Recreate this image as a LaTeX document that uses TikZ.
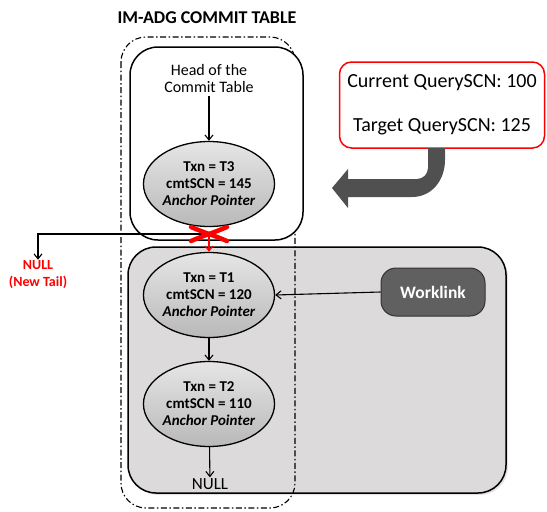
\documentclass[tikz,border=0pt]{standalone}
\usepackage{fontspec}
\setmainfont{Carlito}
\usetikzlibrary{shapes.geometric,arrows.meta,shadows}
\definecolor{boxgray}{HTML}{DCDADB}
\definecolor{linkfill}{HTML}{606060}
\definecolor{bendgray}{HTML}{505050}
\definecolor{alertred}{HTML}{FF0000}
\tikzset{
  ptr/.style={line width=1.1pt, -{Straight Barb[length=5pt,width=8pt,line width=1.1pt]}},
  entry/.style={ellipse, draw=black, line width=1.3pt, minimum width=116pt,
    minimum height=85pt, inner sep=0pt, align=center,
    top color=gray!20, bottom color=gray!55,
    font=\fontsize{15}{17}\selectfont\bfseries},
  region/.style={draw=black, line width=1.5pt, rounded corners=28pt},
}
\begin{document}
\begin{tikzpicture}[x=1pt,y=-1pt]
\useasboundingbox (0,0) rectangle (547,512);

% title
\node[font=\fontsize{18}{20}\selectfont\bfseries] (title) at (207,18) {IM-ADG COMMIT TABLE};

% lower region holding the older entries
\fill[gray!70, opacity=0.3, rounded corners=28pt] (130,249) rectangle (508,495);
\draw[region, fill=boxgray] (128,247) rectangle (506,493);

% outline of the commit table
\draw[line width=1.1pt, dash pattern=on 6pt off 2.5pt on 1.5pt off 2.5pt, rounded corners=25pt]
  (121,37) rectangle (295,508);

% upper region holding the head
\draw[region, fill=white] (130,47) rectangle (303,240);

% entries
\node[font=\fontsize{16}{17}\selectfont, align=center] (head) at (209,78) {Head of the\\Commit Table};
\node[entry] (t3) at (209,184) {Txn = T3\\cmtSCN = 145\\\textit{Anchor Pointer}};
\node[entry] (t1) at (209,295) {Txn = T1\\cmtSCN = 120\\\textit{Anchor Pointer}};
\node[entry] (t2) at (209,404) {Txn = T2\\cmtSCN = 110\\\textit{Anchor Pointer}};
\node[font=\fontsize{17}{18}\selectfont, inner sep=1pt] (null) at (210,484) {NULL};
\node[font=\fontsize{14}{17}\selectfont\bfseries, text=alertred, align=center, inner sep=1pt]
  (tail) at (38,275) {NULL\\(New Tail)};

% worklink
\node[fill=linkfill, draw=black!80, line width=1pt, rounded corners=15pt,
  minimum width=104pt, minimum height=48pt, text=white,
  font=\fontsize{17.5}{18}\selectfont\bfseries] (wl) at (433,292) {Worklink};

% query SCN box
\node[draw=alertred, line width=1.5pt, rounded corners=12pt, fill=white,
  minimum width=205pt, minimum height=86pt, align=center,
  font=\fontsize{20}{44}\selectfont] (scn) at (442,105) {Current QuerySCN: 100\\Target QuerySCN: 125};

% bent arrow leaving the query SCN box
\fill[bendgray] (428,148) -- (445,148) -- (445,160)
  .. controls (445,180) and (432,197) .. (412,197)
  -- (348,197) -- (348,208) -- (332,188) -- (348,169) -- (348,179)
  -- (417,179) .. controls (423,179) and (428,174) .. (428,168) -- cycle;

% cut point of the old link
\coordinate (cut) at (209,234);

% links
\draw[ptr] (head) -- (t3);
\draw[ptr] (cut) -| (tail.north);
\draw[ptr] (t1) -- (t2);
\draw[ptr] (t2) -- (null);
\draw[ptr] (wl.west) -- (t1.east);
\draw[ptr, draw=alertred] (cut) -- (t1.north);

% red cross over the broken link
\draw[alertred, line width=4.5pt, line cap=round]
  ([shift={(-18,-7)}]cut) .. controls ([shift={(-4,-1)}]cut) and ([shift={(4,1)}]cut) .. ([shift={(18,7)}]cut);
\draw[alertred, line width=4.5pt, line cap=round]
  ([shift={(-18,7)}]cut) .. controls ([shift={(-4,1)}]cut) and ([shift={(4,-1)}]cut) .. ([shift={(18,-7)}]cut);
\end{tikzpicture}
\end{document}
